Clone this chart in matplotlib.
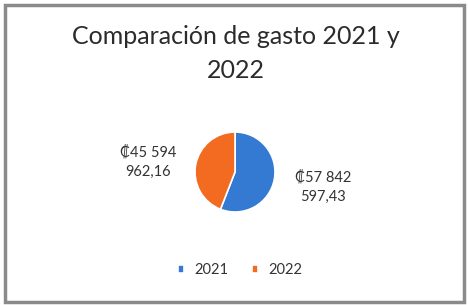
import matplotlib.pyplot as plt
from matplotlib.patches import Rectangle

years = ["2021", "2022"]
gasto = [57842597.43, 45594962.16]
etiquetas = ["₡57 842\n597,43", "₡45 594\n962,16"]
colores = ["#3479d2", "#f36b21"]

plt.rcParams["font.family"] = ["Lato", "DejaVu Sans"]

W, H = 468, 305
fig = plt.figure(figsize=(W / 100, H / 100), dpi=100)
fig.patch.set_facecolor("white")

# outer frame of the chart
fig.patches.append(Rectangle((5 / W, 3 / H), 459 / W, 297 / H, transform=fig.transFigure,
                             fill=False, ec="#8a8a8a", lw=2.5))

fig.text(236 / W, 1 - 36 / H, "Comparación de gasto 2021 y", ha="center", va="center",
         fontsize=18, color="#2b2b2b")
fig.text(236 / W, 1 - 71 / H, "2022", ha="center", va="center",
         fontsize=18, color="#2b2b2b")

# pie: centre (235,172), radius 50 px
ax = fig.add_axes([185 / W, 1 - 222 / H, 100 / W, 100 / H])
wedges, _ = ax.pie(gasto, colors=colores, startangle=90, counterclock=False,
                   wedgeprops=dict(ec="white", lw=1.2))
ax.set_aspect("equal")

fig.text(323 / W, 1 - 187 / H, etiquetas[0], ha="center", va="center",
         fontsize=10.5, color="#333333", linespacing=1.45)
fig.text(148 / W, 1 - 162 / H, etiquetas[1], ha="center", va="center",
         fontsize=10.5, color="#333333", linespacing=1.45)

fig.legend(wedges, years, loc="center", bbox_to_anchor=(240 / W, 1 - 270 / H),
           ncol=2, frameon=False, fontsize=10.5, handlelength=0.45, handleheight=0.45,
           handletextpad=0.7, columnspacing=1.6, labelcolor="#333333")

fig.savefig("out.png", dpi=100)
